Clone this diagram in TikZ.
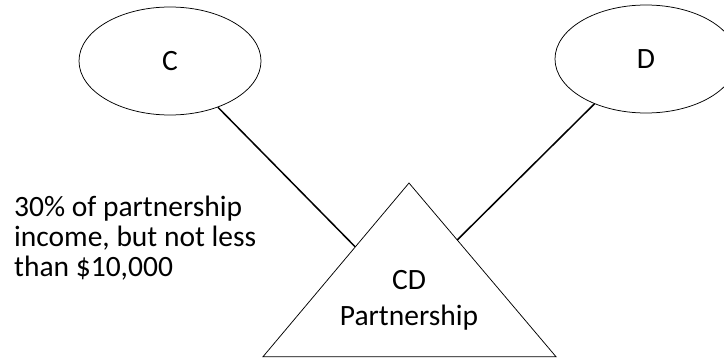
\documentclass[tikz,border=0pt]{standalone}
\usepackage{fontspec}
\setmainfont{Carlito}
\usetikzlibrary{shapes.geometric,calc}
\begin{document}
\begin{tikzpicture}[x=1bp,y=1bp,
  party/.style={draw, ellipse, line width=0.75bp, minimum width=182bp, minimum height=108bp, inner sep=0pt, font=\fontsize{29.5bp}{30bp}\selectfont},
  tri/.style={draw, line width=0.75bp, line join=miter},
  link/.style={draw, line width=1.5bp},
  lbl/.style={font=\fontsize{29.5bp}{30bp}\selectfont, inner sep=0pt}]
\useasboundingbox (0,0) rectangle (724,358);
\node[party] (C) at (170,297) {C};
\node[party] (D) at (646,299) {D};
\coordinate (apex) at (409,175);
\coordinate (bl) at (263,1.3);
\coordinate (br) at (556,1.3);
\draw[tri] (apex) -- (bl) -- (br) -- cycle;
\coordinate (tl) at ($(apex)!0.368!(bl)$);
\coordinate (tr) at ($(apex)!0.328!(br)$);
\node[lbl, align=center, font=\fontsize{29.5bp}{36bp}\selectfont, anchor=base] (P) at (409,33) {CD\\Partnership};
\node[lbl, align=left, anchor=base west] (T) at (14,82) {30\% of partnership\\income, but not less\\than \$10,000};
\draw[link] (C.-44) -- (tl);
\draw[link] (D.221) -- (tr);
\end{tikzpicture}
\end{document}
